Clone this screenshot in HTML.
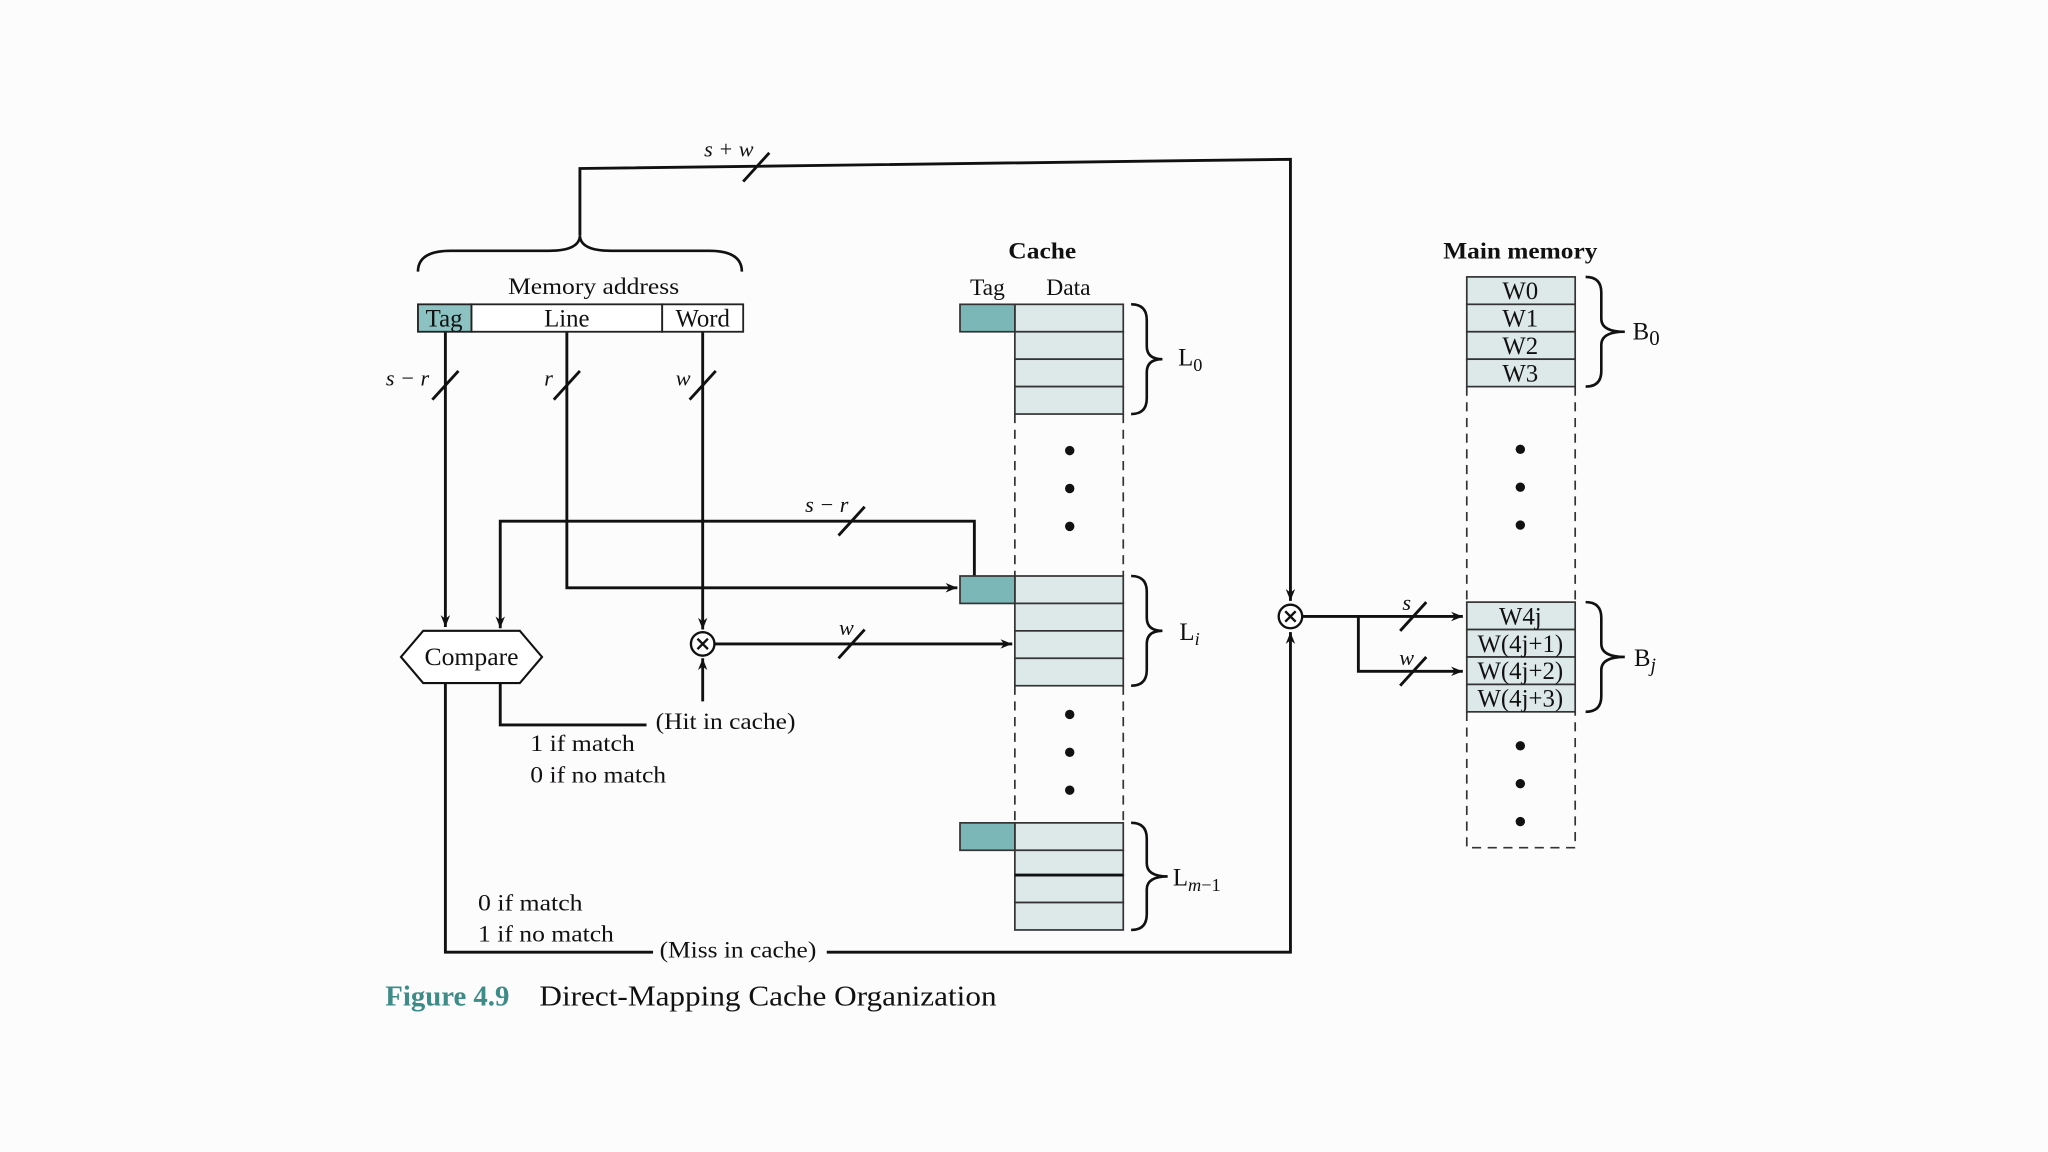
<!DOCTYPE html>
<html><head><meta charset="utf-8"><style>
html,body{margin:0;padding:0;background:#fdfcfd;}
svg{display:block;}
text{font-family:"Liberation Serif",serif;fill:#111;}
</style></head><body>
<svg width="2048" height="1152" viewBox="0 0 1568 882" xmlns="http://www.w3.org/2000/svg">
<defs>
<marker id="a" viewBox="0 0 10 10" refX="10" refY="5" markerWidth="9" markerHeight="9" markerUnits="userSpaceOnUse" orient="auto"><path d="M0,1 L10,5 L0,9 L3,5 Z" fill="#111"/></marker>
</defs>
<rect width="1568" height="882" fill="#fdfcfd"/>
<g stroke="#111" stroke-width="2.2" fill="none">
<polyline points="444,180 444,129 988,122 988,460" marker-end="url(#a)"/>
<line x1="569" y1="139" x2="589" y2="117"/>
<path d="M320,208 Q320,192 345,192 L420,192 Q444,192 444,180 Q444,192 468,192 L543,192 Q568,192 568,208" stroke-width="2"/>
<line x1="341" y1="254" x2="341" y2="480" marker-end="url(#a)"/>
<line x1="331" y1="306" x2="351" y2="284"/>
<polyline points="434,254 434,450 733,450" marker-end="url(#a)"/>
<line x1="424" y1="306" x2="444" y2="284"/>
<line x1="538" y1="254" x2="538" y2="482" marker-end="url(#a)"/>
<line x1="528" y1="306" x2="548" y2="284"/>
<polyline points="746,441 746,399 383,399 383,481" marker-end="url(#a)"/>
<line x1="642" y1="410" x2="662" y2="388"/>
<line x1="547" y1="493" x2="775" y2="493" marker-end="url(#a)"/>
<line x1="642" y1="504" x2="662" y2="482"/>
<line x1="538" y1="537" x2="538" y2="504" marker-end="url(#a)"/>
<polyline points="383,523 383,555 495,555"/>
<polyline points="341,523 341,729 500,729"/>
<polyline points="633,729 988,729 988,484" marker-end="url(#a)"/>
<polyline points="997,472 1120,472" marker-end="url(#a)"/>
<polyline points="1040,472 1040,514 1120,514" marker-end="url(#a)"/>
<line x1="1072" y1="483" x2="1092" y2="461"/>
<line x1="1072" y1="525" x2="1092" y2="503"/>
</g>
<g stroke="#111" stroke-width="1.8" fill="#fff">
<circle cx="538" cy="493" r="9"/>
<circle cx="988" cy="472" r="9"/>
</g>
<g stroke="#111" stroke-width="1.8">
<line x1="534" y1="489" x2="542" y2="497"/><line x1="542" y1="489" x2="534" y2="497"/>
<line x1="984" y1="468" x2="992" y2="476"/><line x1="992" y1="468" x2="984" y2="476"/>
</g>
<polygon points="307,503 324,483 398,483 415,503 398,523 324,523" fill="#fff" stroke="#111" stroke-width="1.6"/>
<text x="325" y="509" font-size="19" textLength="72" lengthAdjust="spacingAndGlyphs">Compare</text>
<g stroke="#222" stroke-width="1.4">
<rect x="320" y="233" width="41" height="21" fill="#8cc3c2"/>
<rect x="361" y="233" width="146" height="21" fill="#fff"/>
<rect x="507" y="233" width="62" height="21" fill="#fff"/>
</g>
<text x="340" y="250" font-size="19" text-anchor="middle">Tag</text>
<text x="434" y="250" font-size="19" text-anchor="middle">Line</text>
<text x="538" y="250" font-size="19" text-anchor="middle">Word</text>
<text x="389" y="225" font-size="18" textLength="131" lengthAdjust="spacingAndGlyphs">Memory address</text>
<g font-size="17" font-style="italic">
<text x="558" y="120" text-anchor="middle">s + w</text>
<text x="312" y="295" text-anchor="middle">s − r</text>
<text x="420" y="295" text-anchor="middle">r</text>
<text x="523" y="295" text-anchor="middle">w</text>
<text x="633" y="392" text-anchor="middle">s − r</text>
<text x="648" y="486" text-anchor="middle">w</text>
<text x="1077" y="467" text-anchor="middle">s</text>
<text x="1077" y="509" text-anchor="middle">w</text>
</g>
<g font-size="18" lengthAdjust="spacingAndGlyphs">
<text x="502" y="558" textLength="107" lengthAdjust="spacingAndGlyphs">(Hit in cache)</text>
<text x="406" y="575" textLength="80" lengthAdjust="spacingAndGlyphs">1 if match</text>
<text x="406" y="599" textLength="104" lengthAdjust="spacingAndGlyphs">0 if no match</text>
<text x="366" y="697" textLength="80" lengthAdjust="spacingAndGlyphs">0 if match</text>
<text x="366" y="721" textLength="104" lengthAdjust="spacingAndGlyphs">1 if no match</text>
<text x="505" y="733" textLength="120" lengthAdjust="spacingAndGlyphs">(Miss in cache)</text>
</g>
<text x="772" y="198" font-size="18" font-weight="bold" textLength="52" lengthAdjust="spacingAndGlyphs">Cache</text>
<text x="756" y="226" font-size="18" text-anchor="middle">Tag</text>
<text x="818" y="226" font-size="18" text-anchor="middle">Data</text>
<g stroke="#333" stroke-width="1.3" fill="#dde9e8">
<rect x="777" y="233" width="83" height="21"/><rect x="777" y="254" width="83" height="21"/><rect x="777" y="275" width="83" height="21"/><rect x="777" y="296" width="83" height="21"/>
<rect x="777" y="441" width="83" height="21"/><rect x="777" y="462" width="83" height="21"/><rect x="777" y="483" width="83" height="21"/><rect x="777" y="504" width="83" height="21"/>
<rect x="777" y="630" width="83" height="21"/><rect x="777" y="651" width="83" height="19"/><rect x="777" y="670" width="83" height="21"/><rect x="777" y="691" width="83" height="21"/>
</g>
<g stroke="#333" stroke-width="1.3" fill="#7ab7b6">
<rect x="735" y="233" width="42" height="21"/><rect x="735" y="441" width="42" height="21"/><rect x="735" y="630" width="42" height="21"/>
</g>
<line x1="777" y1="670" x2="860" y2="670" stroke="#111" stroke-width="2.2"/>
<g stroke="#333" stroke-width="1.3" stroke-dasharray="7,5">
<line x1="777" y1="317" x2="777" y2="441"/><line x1="860" y1="317" x2="860" y2="441"/>
<line x1="777" y1="525" x2="777" y2="630"/><line x1="860" y1="525" x2="860" y2="630"/>
<line x1="1123" y1="296" x2="1123" y2="461"/><line x1="1206" y1="296" x2="1206" y2="461"/>
<polyline points="1123,545 1123,649 1206,649 1206,545" fill="none"/>
</g>
<g fill="#111">
<circle cx="819" cy="345" r="3.6"/><circle cx="819" cy="374" r="3.6"/><circle cx="819" cy="403" r="3.6"/>
<circle cx="819" cy="547" r="3.6"/><circle cx="819" cy="576" r="3.6"/><circle cx="819" cy="605" r="3.6"/>
<circle cx="1164" cy="344" r="3.6"/><circle cx="1164" cy="373" r="3.6"/><circle cx="1164" cy="402" r="3.6"/>
<circle cx="1164" cy="571" r="3.6"/><circle cx="1164" cy="600" r="3.6"/><circle cx="1164" cy="629" r="3.6"/>
</g>
<g stroke="#111" stroke-width="2" fill="none">
<path d="M866,233 Q878,233 878,245 L878,265 Q878,275 890,275 Q878,275 878,285 L878,305 Q878,317 866,317"/>
<path d="M866,441 Q878,441 878,453 L878,473 Q878,483 890,483 Q878,483 878,493 L878,513 Q878,525 866,525"/>
<path d="M866,630 Q878,630 878,642 L878,661 Q878,671 894,671 Q878,671 878,681 L878,700 Q878,712 866,712"/>
<path d="M1214,212 Q1226,212 1226,224 L1226,244 Q1226,254 1244,254 Q1226,254 1226,264 L1226,284 Q1226,296 1214,296"/>
<path d="M1214,461 Q1226,461 1226,473 L1226,493 Q1226,503 1244,503 Q1226,503 1226,513 L1226,533 Q1226,545 1214,545"/>
</g>
<g font-size="19">
<text x="902" y="280">L<tspan font-size="14" dy="4">0</tspan></text>
<text x="903" y="490">L<tspan font-size="14" dy="4" font-style="italic">i</tspan></text>
<text x="898" y="678">L<tspan font-size="14" dy="4"><tspan font-style="italic">m</tspan>−1</tspan></text>
<text x="1250" y="260">B<tspan font-size="16" dy="4">0</tspan></text>
<text x="1251" y="510">B<tspan font-size="15" dy="4" font-style="italic">j</tspan></text>
</g>
<text x="1105" y="198" font-size="18" font-weight="bold" textLength="118" lengthAdjust="spacingAndGlyphs">Main memory</text>
<g stroke="#333" stroke-width="1.3" fill="#dde9e8">
<rect x="1123" y="212" width="83" height="21"/><rect x="1123" y="233" width="83" height="21"/><rect x="1123" y="254" width="83" height="21"/><rect x="1123" y="275" width="83" height="21"/>
<rect x="1123" y="461" width="83" height="21"/><rect x="1123" y="482" width="83" height="21"/><rect x="1123" y="503" width="83" height="21"/><rect x="1123" y="524" width="83" height="21"/>
</g>
<g font-size="19" text-anchor="middle">
<text x="1164" y="229">W0</text><text x="1164" y="250">W1</text><text x="1164" y="271">W2</text><text x="1164" y="292">W3</text>
<text x="1164" y="478">W4j</text><text x="1164" y="499">W(4j+1)</text><text x="1164" y="520">W(4j+2)</text><text x="1164" y="541">W(4j+3)</text>
</g>
<text x="295" y="770" font-size="22" font-weight="bold" style="fill:#3d8c88" textLength="95" lengthAdjust="spacingAndGlyphs">Figure 4.9</text>
<text x="413" y="770" font-size="22" textLength="350" lengthAdjust="spacingAndGlyphs">Direct-Mapping Cache Organization</text>
</svg>
</body></html>
